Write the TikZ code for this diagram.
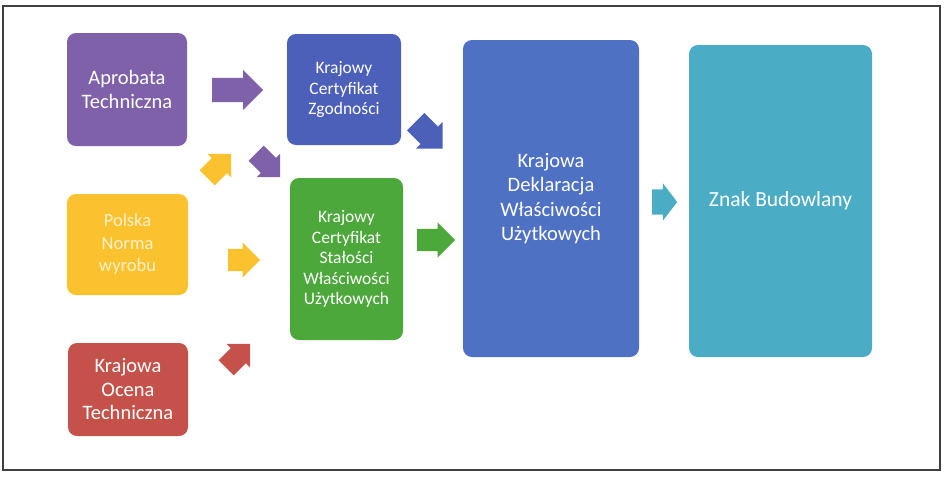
\documentclass[tikz,border=0pt]{standalone}
\usepackage{fontspec}
\setmainfont{Carlito}
\usetikzlibrary{shapes.arrows}

\definecolor{fiolet}{HTML}{7E61A8}
\definecolor{zolty}{HTML}{F9C22E}
\definecolor{czerwony}{HTML}{C4524A}
\definecolor{zielony}{HTML}{4DA83C}
\definecolor{niebieski}{HTML}{4C5FB9}
\definecolor{modry}{HTML}{4F71C4}
\definecolor{turkus}{HTML}{4BACC6}

\begin{document}
\begin{tikzpicture}[x=1pt, y=-1pt,
  box/.style={rounded corners=9pt, fill=#1, text=white, align=center, inner sep=0pt},
  big/.style={font=\fontsize{20.5}{23.5}\selectfont},
  small/.style={font=\fontsize{17.5}{20.5}\selectfont},
  arr/.style={single arrow, fill=#1, draw=none, inner sep=0pt, anchor=tail}]

\useasboundingbox (0,0) rectangle (948,480);
\draw [line width=1.2pt, black!75] (3,6) rectangle (940,470);

% nodes
\node [box=fiolet, big, minimum width=120pt, minimum height=113pt] (A) at (127,89.5) {Aprobata\\Techniczna};
\node [box=zolty, text=white!75!zolty, font=\fontsize{18.5}{22.5}\selectfont, minimum width=121pt, minimum height=101pt] (B) at (127.5,244.5) {Polska\\Norma\\wyrobu};
\node [box=czerwony, big, minimum width=120pt, minimum height=93pt] (C) at (128,389.5) {Krajowa\\Ocena\\Techniczna};
\node [box=niebieski, small, minimum width=114pt, minimum height=111pt] (D) at (344,89.5) {Krajowy\\Certyfikat\\Zgodności};
\node [box=zielony, small, minimum width=113pt, minimum height=162pt] (E) at (346.5,259) {Krajowy\\Certyfikat\\Stałości\\Właściwości\\Użytkowych};
\node [box=modry, font=\fontsize{20.5}{24.5}\selectfont, minimum width=176pt, minimum height=317pt] (F) at (551,198.5) {Krajowa\\Deklaracja\\Właściwości\\Użytkowych};
\node [box=turkus, font=\fontsize{21.5}{25}\selectfont, minimum width=183pt, minimum height=312pt] (G) at (780.5,201) {Znak Budowlany};

% arrows
\node [arr=fiolet, minimum height=51pt, inner ysep=12pt, single arrow head extend=8pt] (AD) at (212,90) {};
\node [arr=zolty, minimum height=34pt, inner ysep=10.5pt, single arrow head extend=6pt, rotate=45] (BA) at (207,178) {};
\node [arr=fiolet, minimum height=34pt, inner ysep=10.5pt, single arrow head extend=6pt, rotate=-45] (AE) at (256,153) {};
\node [arr=zolty, minimum height=32pt, inner ysep=11pt, single arrow head extend=6.5pt] (BE) at (228,260) {};
\node [arr=czerwony, minimum height=34pt, inner ysep=10.5pt, single arrow head extend=6pt, rotate=45] (CE) at (226,368) {};
\node [arr=niebieski, minimum height=38pt, inner ysep=12pt, single arrow head extend=6.5pt, rotate=-45] (DF) at (415.5,121.5) {};
\node [arr=zielony, minimum height=38pt, inner ysep=11pt, single arrow head extend=6.5pt] (EF) at (417,240) {};
\node [arr=turkus, minimum height=25pt, inner ysep=12.5pt, single arrow head extend=6pt, single arrow tip angle=105] (FG) at (652,202) {};

\end{tikzpicture}
\end{document}
